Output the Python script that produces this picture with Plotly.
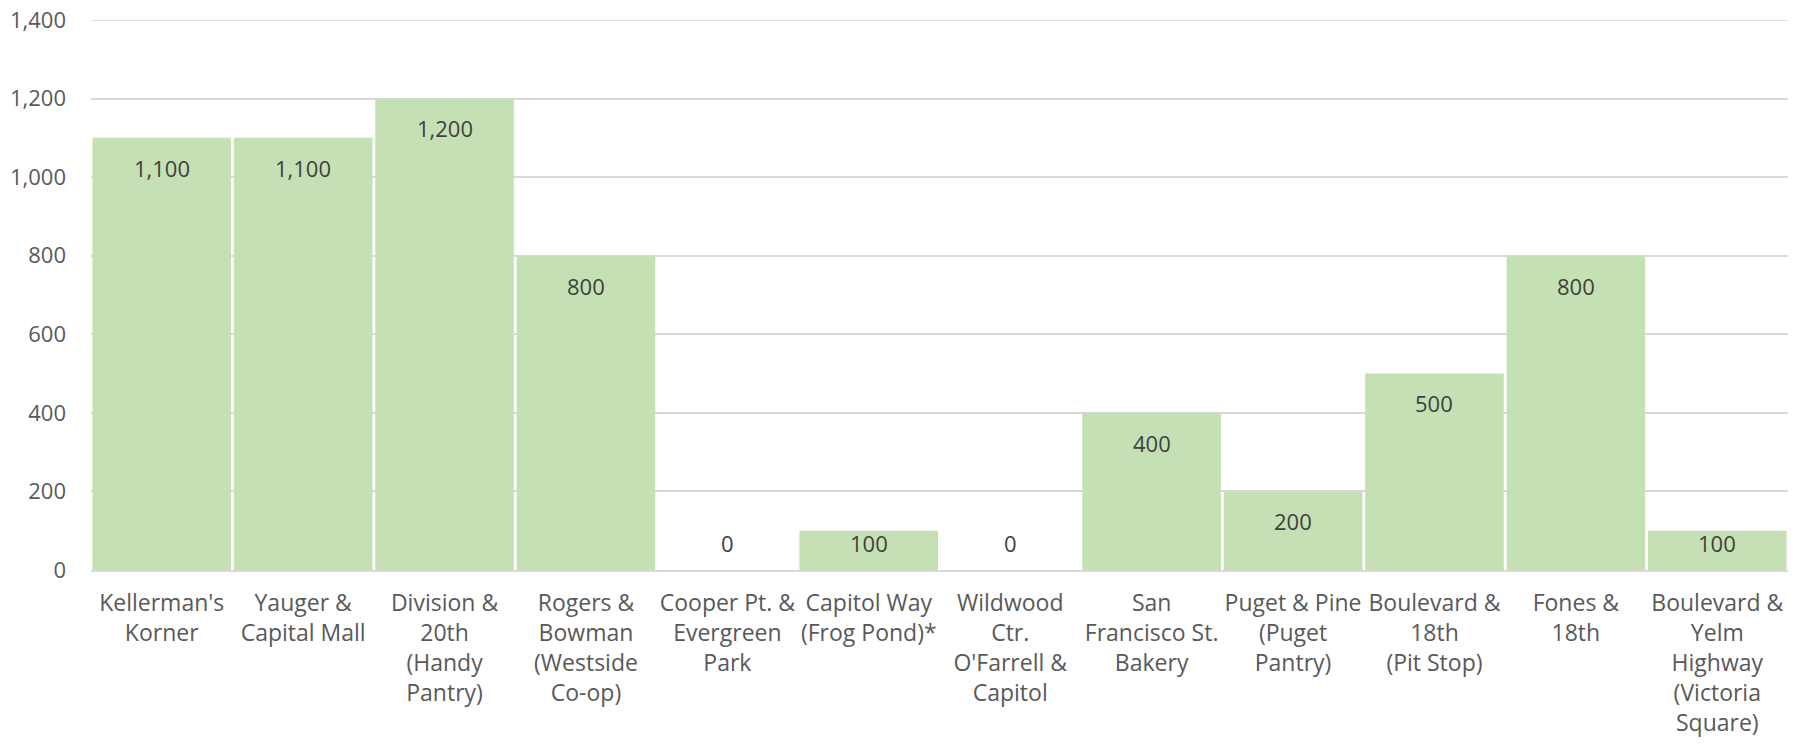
import plotly.graph_objects as go

categories = [
    "Kellerman's<br>Korner",
    "Yauger &<br>Capital Mall",
    "Division &<br>20th<br>(Handy<br>Pantry)",
    "Rogers &<br>Bowman<br>(Westside<br>Co-op)",
    "Cooper Pt. &<br>Evergreen<br>Park",
    "Capitol Way<br>(Frog Pond)*",
    "Wildwood<br>Ctr.<br>O'Farrell &<br>Capitol",
    "San<br>Francisco St.<br>Bakery",
    "Puget & Pine<br>(Puget<br>Pantry)",
    "Boulevard &<br>18th<br>(Pit Stop)",
    "Fones &<br>18th",
    "Boulevard &<br>Yelm<br>Highway<br>(Victoria<br>Square)",
]
values = [1100, 1100, 1200, 800, 0, 100, 0, 400, 200, 500, 800, 100]
y_ticks = [0, 200, 400, 600, 800, 1000, 1200, 1400]

FONT = "Open Sans"
fig = go.Figure(
    go.Bar(
        x=categories,
        y=values,
        marker=dict(color="#c5e0b4", line=dict(width=0)),
        hoverinfo="skip",
    )
)

# data labels (Excel "inside end" style)
for c, v in zip(categories, values):
    fig.add_annotation(
        x=c,
        y=max(v - 76, 69),
        text=f"{v:,}",
        showarrow=False,
        font=dict(family=FONT, size=22, color="#404040"),
        xanchor="center",
        yanchor="middle",
    )

# top gridline (plotly omits gridline on the range edge)
fig.add_shape(
    type="line", xref="paper", x0=0, x1=1, yref="y",
    y0=max(y_ticks), y1=max(y_ticks),
    line=dict(color="#d9d9d9", width=1.5), layer="below",
)

fig.update_layout(
    width=1801,
    height=745,
    margin=dict(l=91, r=13, t=20, b=175),
    paper_bgcolor="white",
    plot_bgcolor="white",
    bargap=0.02,
    showlegend=False,
    font=dict(family=FONT, size=22, color="#595959"),
)
fig.update_xaxes(
    showgrid=False,
    showline=True,
    linecolor="#d9d9d9",
    linewidth=1.5,
    tickfont=dict(family=FONT, size=23, color="#595959"),
    ticklabelstandoff=12,
    automargin=False,
)
fig.update_yaxes(
    range=[0, 1400],
    tickvals=y_ticks,
    tickformat=",",
    showgrid=True,
    gridcolor="#d9d9d9",
    gridwidth=1.5,
    zeroline=False,
    showline=False,
    tickfont=dict(family=FONT, size=22, color="#595959"),
    ticklabelstandoff=24,
    ticklabeloverflow="allow",
    automargin=False,
)

fig.write_html(
    "out.html",
    config={"displayModeBar": False},
    post_script="document.body.style.margin='0';document.body.style.overflow='hidden';",
)
